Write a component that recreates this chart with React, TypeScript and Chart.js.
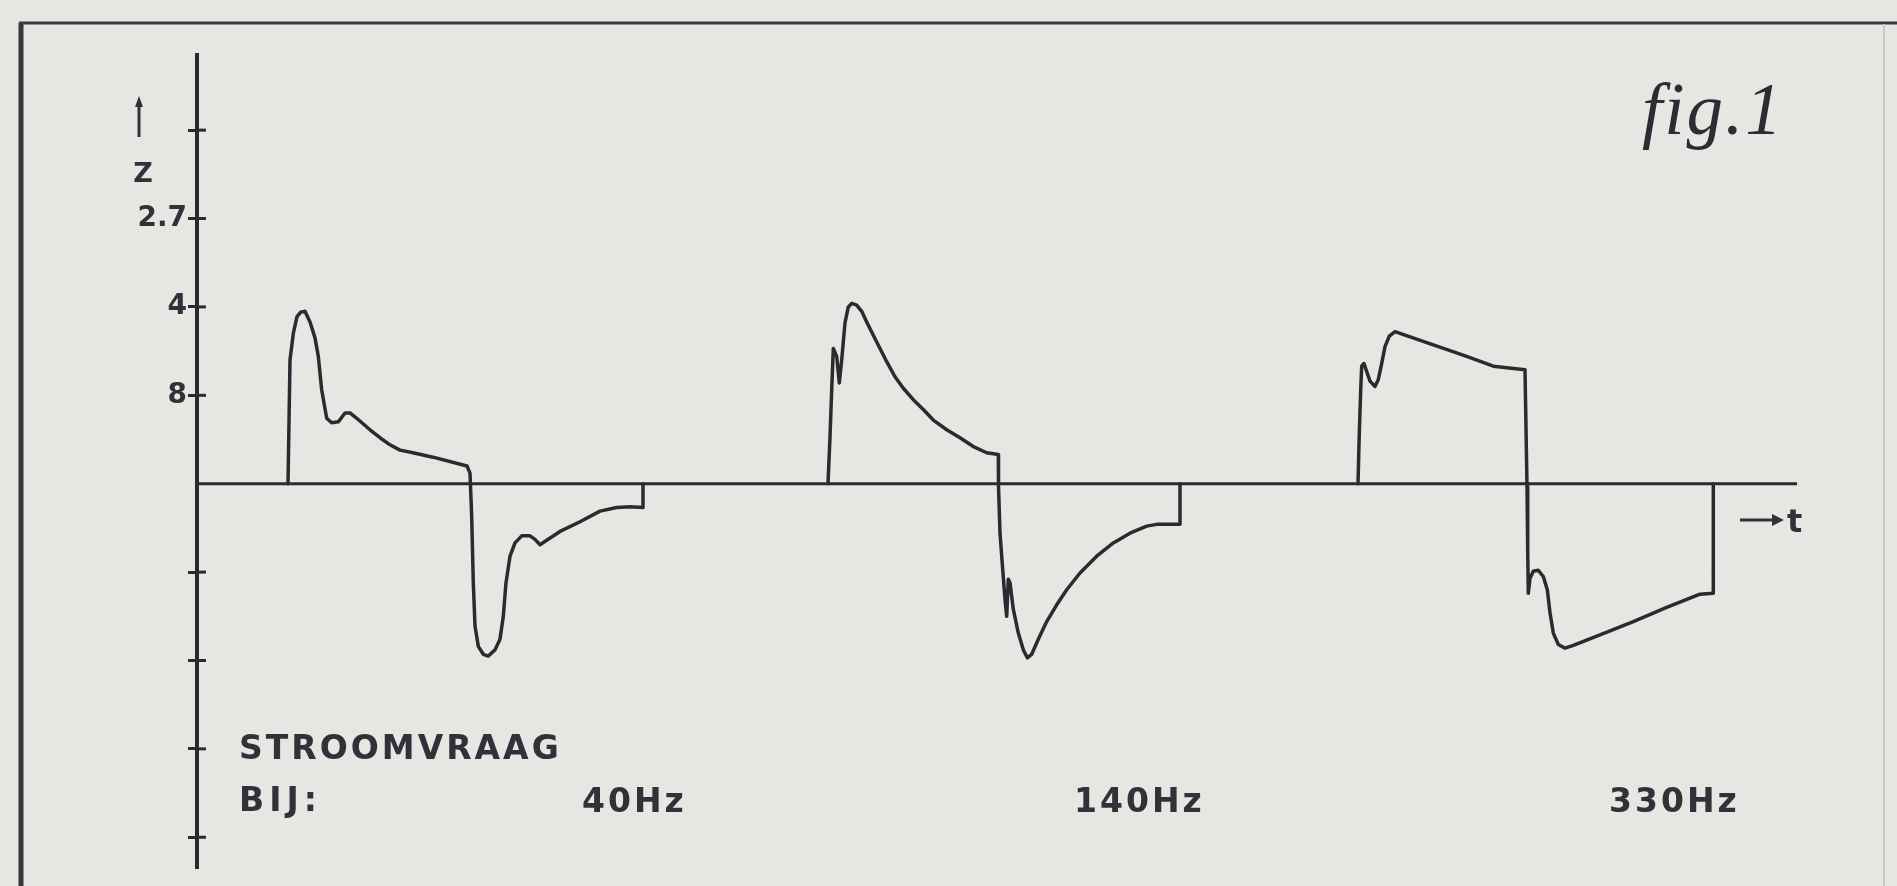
import { useEffect, useRef } from 'react';
import { Chart, registerables } from 'chart.js';

Chart.register(...registerables);

// ---- data (time in arbitrary units, current in tick units) ----
const t40 = [9.1, 9.3, 9.63, 10.0, 10.37, 10.8, 11.3, 11.8, 12.13, 12.47, 12.97, 13.47, 14.13, 14.8, 15.3, 15.97, 17.3, 18.3, 19.3, 20.3, 21.6, 23.6, 27.0, 27.3,
  27.47, 27.63, 27.8, 28.13, 28.63, 29.13, 29.8, 30.3, 30.63, 30.9, 31.3, 31.8, 32.47, 33.3, 33.8, 34.3, 34.97, 36.3, 38.3, 40.3, 41.97, 43.3, 44.6, 44.6];
const z40 = [0, 1.40, 1.70, 1.89, 1.94, 1.95, 1.83, 1.65, 1.44, 1.06, 0.74, 0.69, 0.70, 0.80, 0.80, 0.74, 0.61, 0.52, 0.44, 0.38, 0.35, 0.30, 0.20, 0.12,
  -0.37, -1.12, -1.61, -1.84, -1.93, -1.95, -1.88, -1.76, -1.50, -1.12, -0.82, -0.67, -0.59, -0.59, -0.63, -0.69, -0.64, -0.54, -0.43, -0.31, -0.27, -0.26, -0.27, 0];

const t140 = [63.1, 63.3, 63.47, 63.63, 63.97, 64.23, 64.47, 64.8, 65.13, 65.47, 65.97, 66.47, 66.97, 67.63, 68.3, 68.97, 69.8, 70.63, 71.63, 72.63, 73.63, 74.97, 76.3, 77.63, 78.97, 80.13,
  80.15, 80.3, 80.57, 80.8, 80.97, 81.13, 81.3, 81.63, 82.13, 82.63, 83.03, 83.47, 84.13, 84.97, 85.97, 86.97, 88.3, 89.97, 91.63, 93.3, 94.97, 95.97, 98.3, 98.3];
const z140 = [0, 0.53, 1.06, 1.53, 1.44, 1.14, 1.40, 1.82, 2.00, 2.04, 2.02, 1.95, 1.83, 1.68, 1.53, 1.38, 1.21, 1.08, 0.95, 0.84, 0.72, 0.61, 0.52, 0.42, 0.35, 0.33,
  -0.03, -0.56, -0.97, -1.31, -1.50, -1.08, -1.12, -1.42, -1.69, -1.88, -1.97, -1.93, -1.76, -1.56, -1.37, -1.20, -1.01, -0.82, -0.67, -0.56, -0.48, -0.46, -0.46, 0];

const t330 = [116.1, 116.23, 116.37, 116.47, 116.7, 116.97, 117.3, 117.8, 118.13, 118.47, 118.8, 119.23, 119.8, 120.3, 123.63, 126.97, 129.63, 132.8,
  133.0, 133.07, 133.13, 133.3, 133.63, 134.13, 134.63, 135.03, 135.3, 135.63, 136.13, 136.8, 137.63, 140.3, 143.63, 146.97, 150.3, 151.63, 151.63];
const z330 = [0, 0.57, 1.06, 1.33, 1.36, 1.27, 1.16, 1.10, 1.18, 1.36, 1.55, 1.67, 1.72, 1.70, 1.57, 1.44, 1.33, 1.29,
  -0.03, -0.75, -1.24, -1.07, -0.99, -0.98, -1.05, -1.20, -1.46, -1.69, -1.82, -1.86, -1.83, -1.71, -1.56, -1.40, -1.25, -1.24, 0];

const axisT = [0, 160];
const axisZ = [0, 0];

const yTickValues = [4, 3, 2, 1, -1, -2, -3, -4];
const yTickLabels = ['', '2.7', '4', '8', '', '', '', ''];

const freqLabels = ['40Hz', '140Hz', '330Hz'];
const freqLabelT = [38.5, 87.7, 141.2];

const INK = '#2c2a30';
const TEXT = '#34303a';
const BG = '#e6e6e3';
const SANS = '"DejaVu Sans", "Liberation Sans", Arial, sans-serif';

const toPts = (t: number[], z: number[]) => t.map((x, i) => ({ x, y: z[i] }));

const decorPlugin = {
  id: 'decor',
  beforeDraw(chart: any) {
    const ctx = chart.ctx as CanvasRenderingContext2D;
    const W = chart.width;
    const H = chart.height;
    ctx.save();
    ctx.fillStyle = BG;
    ctx.fillRect(0, 0, W, H);
    // frame
    ctx.strokeStyle = '#3a373d';
    ctx.lineWidth = 5;
    ctx.beginPath();
    ctx.moveTo(21, H);
    ctx.lineTo(21, 23);
    ctx.stroke();
    ctx.lineWidth = 3;
    ctx.beginPath();
    ctx.moveTo(19, 23);
    ctx.lineTo(W, 23);
    ctx.stroke();
    ctx.strokeStyle = '#c8c8ca';
    ctx.lineWidth = 2;
    ctx.beginPath();
    ctx.moveTo(1884, 24);
    ctx.lineTo(1884, H);
    ctx.stroke();
    ctx.restore();
  },
  afterDraw(chart: any) {
    const ctx = chart.ctx as CanvasRenderingContext2D;
    const ys = chart.scales.y;
    const xs = chart.scales.x;
    const area = chart.chartArea;
    ctx.save();
    // inner half of the y ticks
    ctx.strokeStyle = INK;
    ctx.lineWidth = 3;
    yTickValues.forEach((v) => {
      const py = ys.getPixelForValue(v);
      ctx.beginPath();
      ctx.moveTo(area.left, py);
      ctx.lineTo(area.left + 9, py);
      ctx.stroke();
    });

    // Z with up arrow
    ctx.strokeStyle = TEXT;
    ctx.fillStyle = TEXT;
    ctx.lineWidth = 3;
    ctx.beginPath();
    ctx.moveTo(139, 137);
    ctx.lineTo(139, 104);
    ctx.stroke();
    ctx.beginPath();
    ctx.moveTo(135, 107);
    ctx.lineTo(143, 107);
    ctx.lineTo(139, 96);
    ctx.closePath();
    ctx.fill();
    ctx.font = `bold 27px ${SANS}`;
    ctx.textAlign = 'center';
    ctx.textBaseline = 'alphabetic';
    ctx.fillText('Z', 143, 182);

    // fig.1
    ctx.textAlign = 'left';
    ctx.font = 'italic 73px "Liberation Serif", "Times New Roman", serif';
    (ctx as any).letterSpacing = '2px';
    ctx.fillStyle = '#2f2b34';
    ctx.fillText('fig.1', 1642, 134);

    // captions
    ctx.fillStyle = TEXT;
    ctx.font = `bold 33px ${SANS}`;
    (ctx as any).letterSpacing = '3px';
    ctx.fillText('STROOMVRAAG', 239, 759);
    (ctx as any).letterSpacing = '5px';
    ctx.fillText('BIJ:', 239, 811);
    (ctx as any).letterSpacing = '3px';
    freqLabels.forEach((lab, i) => {
      ctx.fillText(lab, xs.getPixelForValue(freqLabelT[i]), 812);
    });

    // -> t
    (ctx as any).letterSpacing = '0px';
    ctx.strokeStyle = TEXT;
    ctx.lineWidth = 3;
    ctx.beginPath();
    ctx.moveTo(1740, 520);
    ctx.lineTo(1775, 520);
    ctx.stroke();
    ctx.beginPath();
    ctx.moveTo(1772, 514);
    ctx.lineTo(1784, 520);
    ctx.lineTo(1772, 526);
    ctx.closePath();
    ctx.fill();
    ctx.font = `bold 32px ${SANS}`;
    ctx.fillText('t', 1787, 532);
    ctx.restore();
  },
};

export default function App() {
  const ref = useRef<HTMLCanvasElement>(null);
  useEffect(() => {
    if (!ref.current) return;
    const lineDs = (t: number[], z: number[], w: number) => ({
      data: toPts(t, z),
      borderColor: INK,
      borderWidth: w,
      pointRadius: 0,
      tension: 0,
      fill: false,
      borderJoinStyle: 'round' as const,
      borderCapStyle: 'round' as const,
    });
    const chart = new Chart(ref.current, {
      type: 'line',
      data: {
        datasets: [
          lineDs(axisT, axisZ, 3),
          lineDs(t40, z40, 3.5),
          lineDs(t140, z140, 3.5),
          lineDs(t330, z330, 3.5),
        ],
      },
      options: {
        animation: false,
        responsive: true,
        maintainAspectRatio: false,
        layout: { padding: { top: 55, bottom: 17, right: 100, left: 0 } },
        plugins: { legend: { display: false }, tooltip: { enabled: false } },
        scales: {
          x: { type: 'linear', min: 0, max: 160, display: false },
          y: {
            type: 'linear',
            min: -4.35,
            max: 4.85,
            afterBuildTicks: (scale: any) => {
              scale.ticks = yTickValues.map((v) => ({ value: v }));
            },
            afterFit: (scale: any) => {
              scale.width = 197;
            },
            ticks: {
              autoSkip: false,
              padding: 1,
              color: TEXT,
              font: { family: SANS, weight: 'bold', size: 28 },
              callback: (v: any) => {
                const i = yTickValues.indexOf(Number(v));
                return i >= 0 ? yTickLabels[i] : '';
              },
            },
            grid: {
              drawOnChartArea: false,
              drawTicks: true,
              tickLength: 9,
              tickWidth: 3,
              tickColor: INK,
            },
            border: { display: true, color: INK, width: 4 },
          },
        },
      },
      plugins: [decorPlugin],
    });
    return () => chart.destroy();
  }, []);
  return (
    <div style={{ position: 'fixed', left: 0, top: 0, width: 1897, height: 886, background: BG }}>
      <canvas ref={ref} />
    </div>
  );
}
